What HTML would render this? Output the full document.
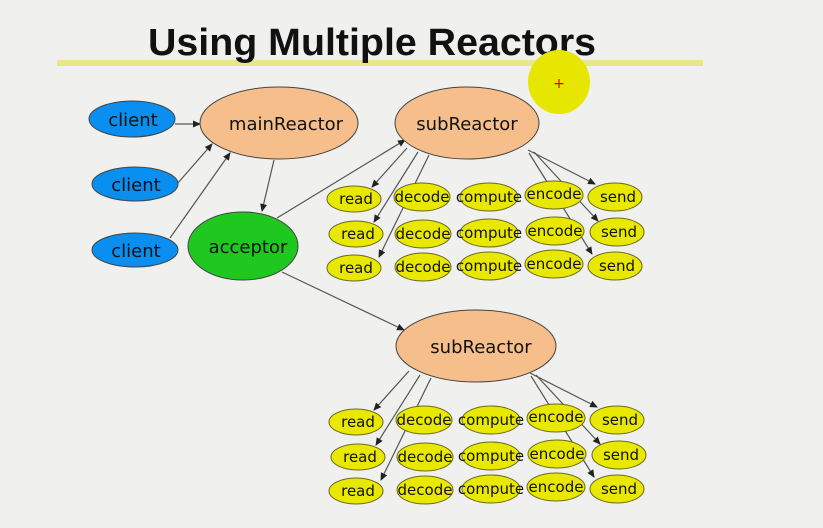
<!DOCTYPE html>
<html><head><meta charset="utf-8"><style>
html,body{margin:0;padding:0;background:#f0f0ef;}
svg{display:block;}
text{font-family:"DejaVu Sans","Liberation Sans",sans-serif;}
</style></head><body>
<svg width="823" height="528" viewBox="0 0 823 528" xmlns="http://www.w3.org/2000/svg">
<defs>
<marker id="a" markerWidth="8" markerHeight="8" refX="7" refY="4" orient="auto" markerUnits="userSpaceOnUse">
<path d="M0,0.5 L8,4 L0,7.5 z" fill="#222"/></marker>
<g id="grp">
 <g stroke="#555" stroke-width="1.2" fill="none">
  <line x1="407" y1="148" x2="372" y2="187" marker-end="url(#a)"/>
  <line x1="418" y1="152" x2="374" y2="222" marker-end="url(#a)"/>
  <line x1="429" y1="155" x2="379" y2="257" marker-end="url(#a)"/>
  <line x1="528" y1="150" x2="595" y2="184" marker-end="url(#a)"/>
  <line x1="534" y1="152" x2="598" y2="221" marker-end="url(#a)"/>
  <line x1="529" y1="153" x2="592" y2="254" marker-end="url(#a)"/>
 </g>
 <g fill="#e8e800" stroke="#6a6a20" stroke-width="1">
  <ellipse cx="354" cy="199" rx="27" ry="13"/><ellipse cx="422" cy="197" rx="28" ry="14"/><ellipse cx="489" cy="197" rx="29" ry="14"/><ellipse cx="554" cy="195" rx="29" ry="14"/><ellipse cx="615" cy="197" rx="27" ry="14"/>
  <ellipse cx="356" cy="234" rx="27" ry="13"/><ellipse cx="423" cy="234" rx="28" ry="14"/><ellipse cx="489" cy="233" rx="29" ry="14"/><ellipse cx="555" cy="231" rx="29" ry="14"/><ellipse cx="617" cy="232" rx="27" ry="14"/>
  <ellipse cx="354" cy="268" rx="27" ry="13"/><ellipse cx="423" cy="267" rx="28" ry="14"/><ellipse cx="489" cy="266" rx="29" ry="14"/><ellipse cx="554" cy="264" rx="29" ry="14"/><ellipse cx="615" cy="266" rx="27" ry="14"/>
 </g>
 <g font-size="15" fill="#111" text-anchor="middle">
  <text x="356" y="204">read</text><text x="422" y="202">decode</text><text x="489" y="202">compute</text><text x="554" y="199">encode</text><text x="618" y="202">send</text>
  <text x="358" y="239">read</text><text x="423" y="239">decode</text><text x="489" y="238">compute</text><text x="555" y="236">encode</text><text x="619" y="237">send</text>
  <text x="356" y="273">read</text><text x="423" y="272">decode</text><text x="489" y="271">compute</text><text x="554" y="269">encode</text><text x="617" y="271">send</text>
 </g>
</g>
</defs>
<rect x="57" y="60" width="646" height="6" fill="#e6e88a"/>
<text x="148" y="55" font-size="38" font-weight="bold" fill="#111" textLength="448" lengthAdjust="spacingAndGlyphs" style="font-family:'Liberation Sans',sans-serif">Using Multiple Reactors</text>
<ellipse cx="559" cy="82" rx="31" ry="32" fill="#e6e600"/>
<text x="559" y="88" font-size="14" fill="#d00" text-anchor="middle">+</text>

<g stroke="#555" stroke-width="1.2" fill="none">
 <line x1="175" y1="124" x2="200" y2="124" marker-end="url(#a)"/>
 <line x1="177" y1="184" x2="212" y2="144" marker-end="url(#a)"/>
 <line x1="170" y1="238" x2="230" y2="153" marker-end="url(#a)"/>
 <line x1="274" y1="160" x2="262" y2="211" marker-end="url(#a)"/>
 <line x1="277" y1="218" x2="405" y2="140" marker-end="url(#a)"/>
 <line x1="282" y1="272" x2="404" y2="330" marker-end="url(#a)"/>
</g>
<g stroke="#444" stroke-width="1">
 <ellipse cx="132" cy="119" rx="43" ry="18" fill="#0a8ef0"/>
 <ellipse cx="135" cy="184" rx="43" ry="17" fill="#0a8ef0"/>
 <ellipse cx="135" cy="250" rx="43" ry="17" fill="#0a8ef0"/>
 <ellipse cx="279" cy="123" rx="79" ry="36" fill="#f5be8a"/>
 <ellipse cx="243" cy="246" rx="55" ry="34" fill="#1ec81e"/>
 <ellipse cx="467" cy="123" rx="72" ry="36" fill="#f5be8a"/>
 <ellipse cx="476" cy="346" rx="80" ry="36" fill="#f5be8a"/>
</g>
<g font-size="18" fill="#111" text-anchor="middle">
 <text x="133" y="126">client</text><text x="136" y="191">client</text><text x="136" y="257">client</text>
 <text x="286" y="130">mainReactor</text>
 <text x="248" y="253">acceptor</text>
 <text x="467" y="130">subReactor</text>
 <text x="481" y="353">subReactor</text>
</g>
<use href="#grp"/>
<use href="#grp" transform="translate(2,223)"/>
</svg>
</body></html>
